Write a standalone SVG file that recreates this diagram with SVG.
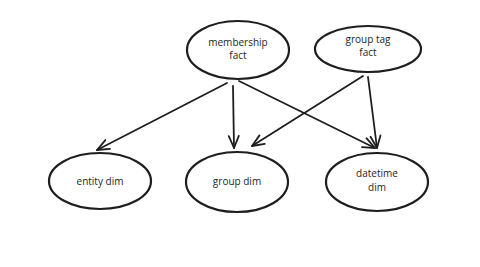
<svg xmlns="http://www.w3.org/2000/svg" width="480" height="267" viewBox="0 0 480 267">
<style>
.n ellipse{fill:#fff;stroke:#1e1e1e;stroke-width:2.2}
.t{font-family:"Open Sans","Liberation Sans",sans-serif;font-size:10px;fill:#1e1e1e;text-anchor:middle}
.c path{fill:none;stroke:#1e1e1e;stroke-width:1.8;stroke-linecap:round;stroke-linejoin:round}
</style>
<defs>
<marker id="a" viewBox="0 0 14 14" refX="13" refY="7" markerWidth="14" markerHeight="14" markerUnits="userSpaceOnUse" orient="auto">
<path d="M1,2 L13,7 L1,12" fill="none" stroke="#1e1e1e" stroke-width="1.8" stroke-linecap="round" stroke-linejoin="round"/>
</marker>
</defs>
<rect width="480" height="267" fill="#fff"/>
<g id="connectors" class="c">
<path d="M227,83 L97,150" marker-end="url(#a)"/>
<path d="M233,86 L234,148" marker-end="url(#a)"/>
<path d="M239,81 L375,148" marker-end="url(#a)"/>
<path d="M363,76 L252,146" marker-end="url(#a)"/>
<path d="M368,77 L377,148" marker-end="url(#a)"/>
</g>
<g id="membership-fact" class="n">
<ellipse cx="238" cy="50" rx="51" ry="29"/>
<text class="t" x="238" y="46">membership</text>
<text class="t" x="238" y="59">fact</text>
</g>
<g id="group-tag-fact" class="n">
<ellipse cx="368" cy="49" rx="53" ry="23"/>
<text class="t" x="368" y="43">group tag</text>
<text class="t" x="368" y="56">fact</text>
</g>
<g id="entity-dim" class="n">
<ellipse cx="100" cy="181" rx="51" ry="28"/>
<text class="t" x="100" y="185">entity dim</text>
</g>
<g id="group-dim" class="n">
<ellipse cx="237" cy="182" rx="51" ry="30"/>
<text class="t" x="237" y="185">group dim</text>
</g>
<g id="datetime-dim" class="n">
<ellipse cx="377" cy="182" rx="51" ry="29"/>
<text class="t" x="377" y="177">datetime</text>
<text class="t" x="377" y="191">dim</text>
</g>
</svg>
